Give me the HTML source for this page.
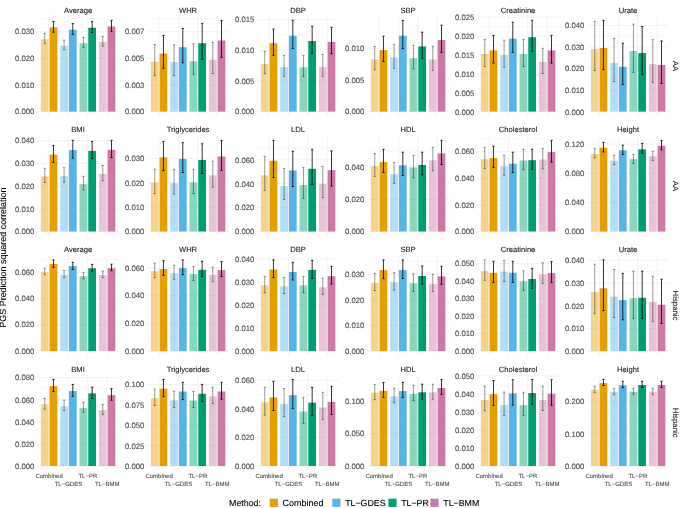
<!DOCTYPE html>
<html lang="en"><head><meta charset="utf-8"><title>PGS Prediction squared correlation</title>
<style>
html,body{margin:0;padding:0;background:#fff;}
body{width:685px;height:508px;overflow:hidden;font-family:"Liberation Sans",Arial,Helvetica,sans-serif;}
svg{display:block;position:absolute;left:0;top:0;will-change:transform;}
svg text{text-rendering:geometricPrecision;}
</style></head><body>
<svg width="685" height="508" viewBox="0 0 685 508" font-family="'Liberation Sans', Arial, Helvetica, sans-serif">
<rect width="685" height="508" fill="#fff"/>
<g>
<path d="M37.4 98.4H118.7M37.4 71.8H118.7M37.4 45.2H118.7M37.4 18.6H118.7" stroke="#EBEBEB" stroke-width="0.36" fill="none"/>
<path d="M37.4 111.7H118.7M37.4 85.1H118.7M37.4 58.4H118.7M37.4 31.7H118.7M49.1 15.7V116.2M68.45 15.7V116.2M87.8 15.7V116.2M107.15 15.7V116.2" stroke="#EBEBEB" stroke-width="0.62" fill="none"/>
<rect x="40.87" y="39.2" width="7.75" height="72.4" fill="#E69F00" fill-opacity="0.45"/>
<rect x="49.58" y="27.3" width="7.75" height="84.3" fill="#E69F00"/>
<rect x="60.22" y="45.8" width="7.75" height="65.8" fill="#56B4E9" fill-opacity="0.45"/>
<rect x="68.93" y="29.7" width="7.75" height="81.9" fill="#56B4E9"/>
<rect x="79.57" y="43.2" width="7.75" height="68.4" fill="#009E73" fill-opacity="0.45"/>
<rect x="88.28" y="27.7" width="7.75" height="83.9" fill="#009E73"/>
<rect x="98.92" y="41.9" width="7.75" height="69.7" fill="#CC79A7" fill-opacity="0.45"/>
<rect x="107.63" y="26.5" width="7.75" height="85.1" fill="#CC79A7"/>
<path d="M43.6 33.3H45.9M44.75 33.3V43.7M43.6 43.7H45.9" stroke="#000" stroke-opacity="0.5" stroke-width="0.8" fill="none"/>
<path d="M52.3 21.4H54.6M53.45 21.4V32.2M52.3 32.2H54.6" stroke="#000" stroke-width="0.8" fill="none"/>
<path d="M62.95 40.2H65.25M64.09 40.2V49.7M62.95 49.7H65.25" stroke="#000" stroke-opacity="0.5" stroke-width="0.8" fill="none"/>
<path d="M71.66 23.6H73.96M72.81 23.6V34.4M71.66 34.4H73.96" stroke="#000" stroke-width="0.8" fill="none"/>
<path d="M82.3 37.5H84.6M83.45 37.5V47.7M82.3 47.7H84.6" stroke="#000" stroke-opacity="0.5" stroke-width="0.8" fill="none"/>
<path d="M91.01 21.7H93.31M92.16 21.7V32.5M91.01 32.5H93.31" stroke="#000" stroke-width="0.8" fill="none"/>
<path d="M101.64 36.2H103.95M102.8 36.2V46.2M101.64 46.2H103.95" stroke="#000" stroke-opacity="0.5" stroke-width="0.8" fill="none"/>
<path d="M110.36 20.3H112.66M111.51 20.3V31.6M110.36 31.6H112.66" stroke="#000" stroke-width="0.8" fill="none"/>
<text x="34.4" y="114.47" font-size="7.75" fill="#4D4D4D" stroke="#4D4D4D" stroke-width="0.1" text-anchor="end">0.000</text>
<text x="34.4" y="87.87" font-size="7.75" fill="#4D4D4D" stroke="#4D4D4D" stroke-width="0.1" text-anchor="end">0.010</text>
<text x="34.4" y="61.17" font-size="7.75" fill="#4D4D4D" stroke="#4D4D4D" stroke-width="0.1" text-anchor="end">0.020</text>
<text x="34.4" y="34.47" font-size="7.75" fill="#4D4D4D" stroke="#4D4D4D" stroke-width="0.1" text-anchor="end">0.030</text>
<text x="78.05" y="12.62" font-size="7.6" fill="#1A1A1A" stroke="#1A1A1A" stroke-width="0.1" text-anchor="middle">Average</text>
</g>
<g>
<path d="M147.4 98.4H228.7M147.4 71.8H228.7M147.4 45.2H228.7M147.4 18.6H228.7" stroke="#EBEBEB" stroke-width="0.36" fill="none"/>
<path d="M147.4 111.7H228.7M147.4 85.1H228.7M147.4 58.4H228.7M147.4 31.7H228.7M159.1 15.7V116.2M178.45 15.7V116.2M197.8 15.7V116.2M217.15 15.7V116.2" stroke="#EBEBEB" stroke-width="0.62" fill="none"/>
<rect x="150.87" y="61.7" width="7.75" height="49.9" fill="#E69F00" fill-opacity="0.45"/>
<rect x="159.58" y="53.6" width="7.75" height="58" fill="#E69F00"/>
<rect x="170.22" y="62" width="7.75" height="49.6" fill="#56B4E9" fill-opacity="0.45"/>
<rect x="178.93" y="47.2" width="7.75" height="64.4" fill="#56B4E9"/>
<rect x="189.57" y="61.2" width="7.75" height="50.4" fill="#009E73" fill-opacity="0.45"/>
<rect x="198.28" y="43.2" width="7.75" height="68.4" fill="#009E73"/>
<rect x="208.92" y="59.8" width="7.75" height="51.8" fill="#CC79A7" fill-opacity="0.45"/>
<rect x="217.63" y="40.5" width="7.75" height="71.1" fill="#CC79A7"/>
<path d="M153.59 44.5H155.9M154.75 44.5V75.6M153.59 75.6H155.9" stroke="#000" stroke-opacity="0.5" stroke-width="0.8" fill="none"/>
<path d="M162.3 35.4H164.6M163.45 35.4V68.4M162.3 68.4H164.6" stroke="#000" stroke-width="0.8" fill="none"/>
<path d="M172.94 44.8H175.25M174.09 44.8V75.6M172.94 75.6H175.25" stroke="#000" stroke-opacity="0.5" stroke-width="0.8" fill="none"/>
<path d="M181.65 28.4H183.95M182.8 28.4V62.8M181.65 62.8H183.95" stroke="#000" stroke-width="0.8" fill="none"/>
<path d="M192.3 43.7H194.6M193.45 43.7V74.4M192.3 74.4H194.6" stroke="#000" stroke-opacity="0.5" stroke-width="0.8" fill="none"/>
<path d="M201 23.4H203.31M202.16 23.4V59.3M201 59.3H203.31" stroke="#000" stroke-width="0.8" fill="none"/>
<path d="M211.65 42.4H213.95M212.8 42.4V73.5M211.65 73.5H213.95" stroke="#000" stroke-opacity="0.5" stroke-width="0.8" fill="none"/>
<path d="M220.35 20.3H222.66M221.5 20.3V57.4M220.35 57.4H222.66" stroke="#000" stroke-width="0.8" fill="none"/>
<text x="144.4" y="114.47" font-size="7.75" fill="#4D4D4D" stroke="#4D4D4D" stroke-width="0.1" text-anchor="end">0.000</text>
<text x="144.4" y="87.87" font-size="7.75" fill="#4D4D4D" stroke="#4D4D4D" stroke-width="0.1" text-anchor="end">0.003</text>
<text x="144.4" y="61.17" font-size="7.75" fill="#4D4D4D" stroke="#4D4D4D" stroke-width="0.1" text-anchor="end">0.005</text>
<text x="144.4" y="34.47" font-size="7.75" fill="#4D4D4D" stroke="#4D4D4D" stroke-width="0.1" text-anchor="end">0.007</text>
<text x="188.05" y="12.62" font-size="7.6" fill="#1A1A1A" stroke="#1A1A1A" stroke-width="0.1" text-anchor="middle">WHR</text>
</g>
<g>
<path d="M257.4 96.25H338.7M257.4 65.55H338.7M257.4 34.85H338.7" stroke="#EBEBEB" stroke-width="0.36" fill="none"/>
<path d="M257.4 111.6H338.7M257.4 80.9H338.7M257.4 50.3H338.7M257.4 19.6H338.7M269.1 15.7V116.2M288.45 15.7V116.2M307.8 15.7V116.2M327.15 15.7V116.2" stroke="#EBEBEB" stroke-width="0.62" fill="none"/>
<rect x="260.87" y="64.1" width="7.75" height="47.5" fill="#E69F00" fill-opacity="0.45"/>
<rect x="269.58" y="43.2" width="7.75" height="68.4" fill="#E69F00"/>
<rect x="280.22" y="67.1" width="7.75" height="44.5" fill="#56B4E9" fill-opacity="0.45"/>
<rect x="288.93" y="35.7" width="7.75" height="75.9" fill="#56B4E9"/>
<rect x="299.57" y="67.3" width="7.75" height="44.3" fill="#009E73" fill-opacity="0.45"/>
<rect x="308.28" y="41" width="7.75" height="70.6" fill="#009E73"/>
<rect x="318.92" y="67.1" width="7.75" height="44.5" fill="#CC79A7" fill-opacity="0.45"/>
<rect x="327.63" y="41.9" width="7.75" height="69.7" fill="#CC79A7"/>
<path d="M263.6 51.3H265.89M264.75 51.3V73.6M263.6 73.6H265.89" stroke="#000" stroke-opacity="0.5" stroke-width="0.8" fill="none"/>
<path d="M272.31 29H274.61M273.46 29V55.3M272.31 55.3H274.61" stroke="#000" stroke-width="0.8" fill="none"/>
<path d="M282.95 55.3H285.25M284.1 55.3V76.4M282.95 76.4H285.25" stroke="#000" stroke-opacity="0.5" stroke-width="0.8" fill="none"/>
<path d="M291.66 20.3H293.96M292.81 20.3V48.5M291.66 48.5H293.96" stroke="#000" stroke-width="0.8" fill="none"/>
<path d="M302.3 55.3H304.59M303.44 55.3V76.7M302.3 76.7H304.59" stroke="#000" stroke-opacity="0.5" stroke-width="0.8" fill="none"/>
<path d="M311.01 26.3H313.31M312.16 26.3V53.2M311.01 53.2H313.31" stroke="#000" stroke-width="0.8" fill="none"/>
<path d="M321.65 54.5H323.94M322.8 54.5V76.4M321.65 76.4H323.94" stroke="#000" stroke-opacity="0.5" stroke-width="0.8" fill="none"/>
<path d="M330.36 27.3H332.66M331.51 27.3V53.7M330.36 53.7H332.66" stroke="#000" stroke-width="0.8" fill="none"/>
<text x="254.4" y="114.37" font-size="7.75" fill="#4D4D4D" stroke="#4D4D4D" stroke-width="0.1" text-anchor="end">0.000</text>
<text x="254.4" y="83.67" font-size="7.75" fill="#4D4D4D" stroke="#4D4D4D" stroke-width="0.1" text-anchor="end">0.005</text>
<text x="254.4" y="53.07" font-size="7.75" fill="#4D4D4D" stroke="#4D4D4D" stroke-width="0.1" text-anchor="end">0.010</text>
<text x="254.4" y="22.37" font-size="7.75" fill="#4D4D4D" stroke="#4D4D4D" stroke-width="0.1" text-anchor="end">0.015</text>
<text x="298.05" y="12.62" font-size="7.6" fill="#1A1A1A" stroke="#1A1A1A" stroke-width="0.1" text-anchor="middle">DBP</text>
</g>
<g>
<path d="M367.4 95.8H448.7M367.4 64H448.7M367.4 32.2H448.7" stroke="#EBEBEB" stroke-width="0.36" fill="none"/>
<path d="M367.4 111.7H448.7M367.4 79.9H448.7M367.4 48.1H448.7M379.1 15.7V116.2M398.45 15.7V116.2M417.8 15.7V116.2M437.15 15.7V116.2" stroke="#EBEBEB" stroke-width="0.62" fill="none"/>
<rect x="370.87" y="59.3" width="7.75" height="52.3" fill="#E69F00" fill-opacity="0.45"/>
<rect x="379.58" y="50.1" width="7.75" height="61.5" fill="#E69F00"/>
<rect x="390.22" y="57.4" width="7.75" height="54.2" fill="#56B4E9" fill-opacity="0.45"/>
<rect x="398.93" y="35.7" width="7.75" height="75.9" fill="#56B4E9"/>
<rect x="409.57" y="58.2" width="7.75" height="53.4" fill="#009E73" fill-opacity="0.45"/>
<rect x="418.28" y="46.4" width="7.75" height="65.2" fill="#009E73"/>
<rect x="428.92" y="59.6" width="7.75" height="52" fill="#CC79A7" fill-opacity="0.45"/>
<rect x="437.63" y="40" width="7.75" height="71.6" fill="#CC79A7"/>
<path d="M373.6 46.4H375.89M374.75 46.4V69.7M373.6 69.7H375.89" stroke="#000" stroke-opacity="0.5" stroke-width="0.8" fill="none"/>
<path d="M382.31 36.2H384.61M383.46 36.2V61.5M382.31 61.5H384.61" stroke="#000" stroke-width="0.8" fill="none"/>
<path d="M392.95 44.3H395.25M394.1 44.3V68.4M392.95 68.4H395.25" stroke="#000" stroke-opacity="0.5" stroke-width="0.8" fill="none"/>
<path d="M401.66 20.3H403.96M402.81 20.3V48.5M401.66 48.5H403.96" stroke="#000" stroke-width="0.8" fill="none"/>
<path d="M412.3 45.3H414.59M413.44 45.3V68.9M412.3 68.9H414.59" stroke="#000" stroke-opacity="0.5" stroke-width="0.8" fill="none"/>
<path d="M421.01 32.2H423.31M422.16 32.2V58.3M421.01 58.3H423.31" stroke="#000" stroke-width="0.8" fill="none"/>
<path d="M431.65 46.4H433.94M432.8 46.4V70.3M431.65 70.3H433.94" stroke="#000" stroke-opacity="0.5" stroke-width="0.8" fill="none"/>
<path d="M440.36 25.2H442.66M441.51 25.2V52.4M440.36 52.4H442.66" stroke="#000" stroke-width="0.8" fill="none"/>
<text x="364.4" y="114.47" font-size="7.75" fill="#4D4D4D" stroke="#4D4D4D" stroke-width="0.1" text-anchor="end">0.000</text>
<text x="364.4" y="82.67" font-size="7.75" fill="#4D4D4D" stroke="#4D4D4D" stroke-width="0.1" text-anchor="end">0.005</text>
<text x="364.4" y="50.87" font-size="7.75" fill="#4D4D4D" stroke="#4D4D4D" stroke-width="0.1" text-anchor="end">0.010</text>
<text x="408.05" y="12.62" font-size="7.6" fill="#1A1A1A" stroke="#1A1A1A" stroke-width="0.1" text-anchor="middle">SBP</text>
</g>
<g>
<path d="M477.4 102.35H558.7M477.4 83.45H558.7M477.4 64.55H558.7M477.4 45.65H558.7M477.4 26.75H558.7" stroke="#EBEBEB" stroke-width="0.36" fill="none"/>
<path d="M477.4 111.8H558.7M477.4 92.9H558.7M477.4 74H558.7M477.4 55.1H558.7M477.4 36.1H558.7M477.4 17.2H558.7M489.1 15.7V116.2M508.45 15.7V116.2M527.8 15.7V116.2M547.15 15.7V116.2" stroke="#EBEBEB" stroke-width="0.62" fill="none"/>
<rect x="480.87" y="54" width="7.75" height="57.6" fill="#E69F00" fill-opacity="0.45"/>
<rect x="489.58" y="50.4" width="7.75" height="61.2" fill="#E69F00"/>
<rect x="500.22" y="55" width="7.75" height="56.6" fill="#56B4E9" fill-opacity="0.45"/>
<rect x="508.93" y="38.6" width="7.75" height="73" fill="#56B4E9"/>
<rect x="519.57" y="54" width="7.75" height="57.6" fill="#009E73" fill-opacity="0.45"/>
<rect x="528.28" y="37.2" width="7.75" height="74.4" fill="#009E73"/>
<rect x="538.92" y="62" width="7.75" height="49.6" fill="#CC79A7" fill-opacity="0.45"/>
<rect x="547.63" y="50.4" width="7.75" height="61.2" fill="#CC79A7"/>
<path d="M483.6 39.4H485.89M484.75 39.4V66.5M483.6 66.5H485.89" stroke="#000" stroke-opacity="0.5" stroke-width="0.8" fill="none"/>
<path d="M492.31 35.4H494.61M493.46 35.4V63.1M492.31 63.1H494.61" stroke="#000" stroke-width="0.8" fill="none"/>
<path d="M502.95 40.2H505.25M504.1 40.2V67.3M502.95 67.3H505.25" stroke="#000" stroke-opacity="0.5" stroke-width="0.8" fill="none"/>
<path d="M511.66 22.3H513.96M512.81 22.3V52.4M511.66 52.4H513.96" stroke="#000" stroke-width="0.8" fill="none"/>
<path d="M522.3 39.4H524.6M523.45 39.4V66.5M522.3 66.5H524.6" stroke="#000" stroke-opacity="0.5" stroke-width="0.8" fill="none"/>
<path d="M531.01 20.3H533.31M532.16 20.3V51.3M531.01 51.3H533.31" stroke="#000" stroke-width="0.8" fill="none"/>
<path d="M541.64 48.3H543.94M542.79 48.3V73.5M541.64 73.5H543.94" stroke="#000" stroke-opacity="0.5" stroke-width="0.8" fill="none"/>
<path d="M550.36 35.4H552.65M551.5 35.4V63.1M550.36 63.1H552.65" stroke="#000" stroke-width="0.8" fill="none"/>
<text x="474.4" y="114.57" font-size="7.75" fill="#4D4D4D" stroke="#4D4D4D" stroke-width="0.1" text-anchor="end">0.000</text>
<text x="474.4" y="95.67" font-size="7.75" fill="#4D4D4D" stroke="#4D4D4D" stroke-width="0.1" text-anchor="end">0.005</text>
<text x="474.4" y="76.77" font-size="7.75" fill="#4D4D4D" stroke="#4D4D4D" stroke-width="0.1" text-anchor="end">0.010</text>
<text x="474.4" y="57.87" font-size="7.75" fill="#4D4D4D" stroke="#4D4D4D" stroke-width="0.1" text-anchor="end">0.015</text>
<text x="474.4" y="38.87" font-size="7.75" fill="#4D4D4D" stroke="#4D4D4D" stroke-width="0.1" text-anchor="end">0.020</text>
<text x="474.4" y="19.97" font-size="7.75" fill="#4D4D4D" stroke="#4D4D4D" stroke-width="0.1" text-anchor="end">0.025</text>
<text x="518.05" y="12.62" font-size="7.6" fill="#1A1A1A" stroke="#1A1A1A" stroke-width="0.1" text-anchor="middle">Creatinine</text>
</g>
<g>
<path d="M587.4 101.05H668.7M587.4 79.35H668.7M587.4 57.65H668.7M587.4 35.95H668.7" stroke="#EBEBEB" stroke-width="0.36" fill="none"/>
<path d="M587.4 111.9H668.7M587.4 90.2H668.7M587.4 68.6H668.7M587.4 47H668.7M587.4 25.4H668.7M599.1 15.7V116.2M618.45 15.7V116.2M637.8 15.7V116.2M657.15 15.7V116.2" stroke="#EBEBEB" stroke-width="0.62" fill="none"/>
<rect x="590.87" y="48.9" width="7.75" height="62.7" fill="#E69F00" fill-opacity="0.45"/>
<rect x="599.58" y="48" width="7.75" height="63.6" fill="#E69F00"/>
<rect x="610.22" y="62.8" width="7.75" height="48.8" fill="#56B4E9" fill-opacity="0.45"/>
<rect x="618.93" y="66.8" width="7.75" height="44.8" fill="#56B4E9"/>
<rect x="629.57" y="51" width="7.75" height="60.6" fill="#009E73" fill-opacity="0.45"/>
<rect x="638.28" y="53.1" width="7.75" height="58.5" fill="#009E73"/>
<rect x="648.92" y="64.1" width="7.75" height="47.5" fill="#CC79A7" fill-opacity="0.45"/>
<rect x="657.63" y="65" width="7.75" height="46.6" fill="#CC79A7"/>
<path d="M593.6 21.4H595.89M594.75 21.4V70.5M593.6 70.5H595.89" stroke="#000" stroke-opacity="0.5" stroke-width="0.8" fill="none"/>
<path d="M602.31 20.3H604.61M603.46 20.3V69.7M602.31 69.7H604.61" stroke="#000" stroke-width="0.8" fill="none"/>
<path d="M612.95 38.3H615.25M614.1 38.3V81.5M612.95 81.5H615.25" stroke="#000" stroke-opacity="0.5" stroke-width="0.8" fill="none"/>
<path d="M621.66 43.2H623.96M622.81 43.2V84.6M621.66 84.6H623.96" stroke="#000" stroke-width="0.8" fill="none"/>
<path d="M632.3 24.1H634.6M633.45 24.1V72.4M632.3 72.4H634.6" stroke="#000" stroke-opacity="0.5" stroke-width="0.8" fill="none"/>
<path d="M641.01 26.5H643.31M642.16 26.5V74.4M641.01 74.4H643.31" stroke="#000" stroke-width="0.8" fill="none"/>
<path d="M651.64 39.7H653.94M652.79 39.7V82.4M651.64 82.4H653.94" stroke="#000" stroke-opacity="0.5" stroke-width="0.8" fill="none"/>
<path d="M660.36 41H662.65M661.5 41V83.5M660.36 83.5H662.65" stroke="#000" stroke-width="0.8" fill="none"/>
<text x="584.4" y="114.67" font-size="7.75" fill="#4D4D4D" stroke="#4D4D4D" stroke-width="0.1" text-anchor="end">0.000</text>
<text x="584.4" y="92.97" font-size="7.75" fill="#4D4D4D" stroke="#4D4D4D" stroke-width="0.1" text-anchor="end">0.010</text>
<text x="584.4" y="71.37" font-size="7.75" fill="#4D4D4D" stroke="#4D4D4D" stroke-width="0.1" text-anchor="end">0.020</text>
<text x="584.4" y="49.77" font-size="7.75" fill="#4D4D4D" stroke="#4D4D4D" stroke-width="0.1" text-anchor="end">0.030</text>
<text x="584.4" y="28.17" font-size="7.75" fill="#4D4D4D" stroke="#4D4D4D" stroke-width="0.1" text-anchor="end">0.040</text>
<text x="628.05" y="12.62" font-size="7.6" fill="#1A1A1A" stroke="#1A1A1A" stroke-width="0.1" text-anchor="middle">Urate</text>
</g>
<g>
<path d="M37.4 220.25H118.7M37.4 197.55H118.7M37.4 174.85H118.7M37.4 152.15H118.7" stroke="#EBEBEB" stroke-width="0.36" fill="none"/>
<path d="M37.4 231.6H118.7M37.4 208.9H118.7M37.4 186.2H118.7M37.4 163.5H118.7M37.4 140.7H118.7M49.1 135.7V236.1M68.45 135.7V236.1M87.8 135.7V236.1M107.15 135.7V236.1" stroke="#EBEBEB" stroke-width="0.62" fill="none"/>
<rect x="40.87" y="176.4" width="7.75" height="55.1" fill="#E69F00" fill-opacity="0.45"/>
<rect x="49.58" y="154.6" width="7.75" height="76.9" fill="#E69F00"/>
<rect x="60.22" y="176.1" width="7.75" height="55.4" fill="#56B4E9" fill-opacity="0.45"/>
<rect x="68.93" y="150.1" width="7.75" height="81.4" fill="#56B4E9"/>
<rect x="79.57" y="184.1" width="7.75" height="47.4" fill="#009E73" fill-opacity="0.45"/>
<rect x="88.28" y="150.9" width="7.75" height="80.6" fill="#009E73"/>
<rect x="98.92" y="174" width="7.75" height="57.5" fill="#CC79A7" fill-opacity="0.45"/>
<rect x="107.63" y="149.8" width="7.75" height="81.7" fill="#CC79A7"/>
<path d="M43.6 168.3H45.9M44.75 168.3V182.5M43.6 182.5H45.9" stroke="#000" stroke-opacity="0.5" stroke-width="0.8" fill="none"/>
<path d="M52.3 145.4H54.6M53.45 145.4V162.4M52.3 162.4H54.6" stroke="#000" stroke-width="0.8" fill="none"/>
<path d="M62.95 167.7H65.25M64.09 167.7V182.3M62.95 182.3H65.25" stroke="#000" stroke-opacity="0.5" stroke-width="0.8" fill="none"/>
<path d="M71.66 140.3H73.96M72.81 140.3V158.1M71.66 158.1H73.96" stroke="#000" stroke-width="0.8" fill="none"/>
<path d="M82.3 176.4H84.6M83.45 176.4V190M82.3 190H84.6" stroke="#000" stroke-opacity="0.5" stroke-width="0.8" fill="none"/>
<path d="M91.01 141.4H93.31M92.16 141.4V158.6M91.01 158.6H93.31" stroke="#000" stroke-width="0.8" fill="none"/>
<path d="M101.64 165.4H103.95M102.8 165.4V180.6M101.64 180.6H103.95" stroke="#000" stroke-opacity="0.5" stroke-width="0.8" fill="none"/>
<path d="M110.36 140.3H112.66M111.51 140.3V157.5M110.36 157.5H112.66" stroke="#000" stroke-width="0.8" fill="none"/>
<text x="34.4" y="234.37" font-size="7.75" fill="#4D4D4D" stroke="#4D4D4D" stroke-width="0.1" text-anchor="end">0.000</text>
<text x="34.4" y="211.67" font-size="7.75" fill="#4D4D4D" stroke="#4D4D4D" stroke-width="0.1" text-anchor="end">0.010</text>
<text x="34.4" y="188.97" font-size="7.75" fill="#4D4D4D" stroke="#4D4D4D" stroke-width="0.1" text-anchor="end">0.020</text>
<text x="34.4" y="166.27" font-size="7.75" fill="#4D4D4D" stroke="#4D4D4D" stroke-width="0.1" text-anchor="end">0.030</text>
<text x="34.4" y="143.47" font-size="7.75" fill="#4D4D4D" stroke="#4D4D4D" stroke-width="0.1" text-anchor="end">0.040</text>
<text x="78.05" y="132.22" font-size="7.6" fill="#1A1A1A" stroke="#1A1A1A" stroke-width="0.1" text-anchor="middle">BMI</text>
</g>
<g>
<path d="M147.4 219.4H228.7M147.4 195H228.7M147.4 170.6H228.7M147.4 146.2H228.7" stroke="#EBEBEB" stroke-width="0.36" fill="none"/>
<path d="M147.4 231.6H228.7M147.4 207.2H228.7M147.4 182.8H228.7M147.4 158.3H228.7M159.1 135.7V236.1M178.45 135.7V236.1M197.8 135.7V236.1M217.15 135.7V236.1" stroke="#EBEBEB" stroke-width="0.62" fill="none"/>
<rect x="150.87" y="182.5" width="7.75" height="49" fill="#E69F00" fill-opacity="0.45"/>
<rect x="159.58" y="157.3" width="7.75" height="74.2" fill="#E69F00"/>
<rect x="170.22" y="183.1" width="7.75" height="48.4" fill="#56B4E9" fill-opacity="0.45"/>
<rect x="178.93" y="158.9" width="7.75" height="72.6" fill="#56B4E9"/>
<rect x="189.57" y="182.5" width="7.75" height="49" fill="#009E73" fill-opacity="0.45"/>
<rect x="198.28" y="159.9" width="7.75" height="71.6" fill="#009E73"/>
<rect x="208.92" y="175.3" width="7.75" height="56.2" fill="#CC79A7" fill-opacity="0.45"/>
<rect x="217.63" y="156.5" width="7.75" height="75" fill="#CC79A7"/>
<path d="M153.59 169.1H155.9M154.75 169.1V193.5M153.59 193.5H155.9" stroke="#000" stroke-opacity="0.5" stroke-width="0.8" fill="none"/>
<path d="M162.3 141.4H164.6M163.45 141.4V170.7M162.3 170.7H164.6" stroke="#000" stroke-width="0.8" fill="none"/>
<path d="M172.94 169.4H175.25M174.09 169.4V194M172.94 194H175.25" stroke="#000" stroke-opacity="0.5" stroke-width="0.8" fill="none"/>
<path d="M181.65 142.6H183.95M182.8 142.6V172.5M181.65 172.5H183.95" stroke="#000" stroke-width="0.8" fill="none"/>
<path d="M192.3 169.1H194.6M193.45 169.1V193.5M192.3 193.5H194.6" stroke="#000" stroke-opacity="0.5" stroke-width="0.8" fill="none"/>
<path d="M201 143.8H203.31M202.16 143.8V173.4M201 173.4H203.31" stroke="#000" stroke-width="0.8" fill="none"/>
<path d="M211.65 161.1H213.95M212.8 161.1V187.3M211.65 187.3H213.95" stroke="#000" stroke-opacity="0.5" stroke-width="0.8" fill="none"/>
<path d="M220.35 140.3H222.66M221.5 140.3V170.4M220.35 170.4H222.66" stroke="#000" stroke-width="0.8" fill="none"/>
<text x="144.4" y="234.37" font-size="7.75" fill="#4D4D4D" stroke="#4D4D4D" stroke-width="0.1" text-anchor="end">0.000</text>
<text x="144.4" y="209.97" font-size="7.75" fill="#4D4D4D" stroke="#4D4D4D" stroke-width="0.1" text-anchor="end">0.010</text>
<text x="144.4" y="185.57" font-size="7.75" fill="#4D4D4D" stroke="#4D4D4D" stroke-width="0.1" text-anchor="end">0.020</text>
<text x="144.4" y="161.07" font-size="7.75" fill="#4D4D4D" stroke="#4D4D4D" stroke-width="0.1" text-anchor="end">0.030</text>
<text x="188.05" y="132.22" font-size="7.6" fill="#1A1A1A" stroke="#1A1A1A" stroke-width="0.1" text-anchor="middle">Triglycerides</text>
</g>
<g>
<path d="M257.4 219.65H338.7M257.4 195.75H338.7M257.4 171.85H338.7M257.4 147.95H338.7" stroke="#EBEBEB" stroke-width="0.36" fill="none"/>
<path d="M257.4 231.6H338.7M257.4 207.7H338.7M257.4 183.8H338.7M257.4 159.9H338.7M269.1 135.7V236.1M288.45 135.7V236.1M307.8 135.7V236.1M327.15 135.7V236.1" stroke="#EBEBEB" stroke-width="0.62" fill="none"/>
<rect x="260.87" y="175.3" width="7.75" height="56.2" fill="#E69F00" fill-opacity="0.45"/>
<rect x="269.58" y="160.8" width="7.75" height="70.7" fill="#E69F00"/>
<rect x="280.22" y="186" width="7.75" height="45.5" fill="#56B4E9" fill-opacity="0.45"/>
<rect x="288.93" y="170.4" width="7.75" height="61.1" fill="#56B4E9"/>
<rect x="299.57" y="185" width="7.75" height="46.5" fill="#009E73" fill-opacity="0.45"/>
<rect x="308.28" y="168.8" width="7.75" height="62.7" fill="#009E73"/>
<rect x="318.92" y="183.9" width="7.75" height="47.6" fill="#CC79A7" fill-opacity="0.45"/>
<rect x="327.63" y="170.1" width="7.75" height="61.4" fill="#CC79A7"/>
<path d="M263.6 156.2H265.89M264.75 156.2V190.3M263.6 190.3H265.89" stroke="#000" stroke-opacity="0.5" stroke-width="0.8" fill="none"/>
<path d="M272.31 140.3H274.61M273.46 140.3V177.5M272.31 177.5H274.61" stroke="#000" stroke-width="0.8" fill="none"/>
<path d="M282.95 168.5H285.25M284.1 168.5V199.5M282.95 199.5H285.25" stroke="#000" stroke-opacity="0.5" stroke-width="0.8" fill="none"/>
<path d="M291.66 151.3H293.96M292.81 151.3V186.5M291.66 186.5H293.96" stroke="#000" stroke-width="0.8" fill="none"/>
<path d="M302.3 167.4H304.59M303.44 167.4V198.4M302.3 198.4H304.59" stroke="#000" stroke-opacity="0.5" stroke-width="0.8" fill="none"/>
<path d="M311.01 149.3H313.31M312.16 149.3V184.4M311.01 184.4H313.31" stroke="#000" stroke-width="0.8" fill="none"/>
<path d="M321.65 166.4H323.94M322.8 166.4V197.5M321.65 197.5H323.94" stroke="#000" stroke-opacity="0.5" stroke-width="0.8" fill="none"/>
<path d="M330.36 150.9H332.66M331.51 150.9V186M330.36 186H332.66" stroke="#000" stroke-width="0.8" fill="none"/>
<text x="254.4" y="234.37" font-size="7.75" fill="#4D4D4D" stroke="#4D4D4D" stroke-width="0.1" text-anchor="end">0.000</text>
<text x="254.4" y="210.47" font-size="7.75" fill="#4D4D4D" stroke="#4D4D4D" stroke-width="0.1" text-anchor="end">0.020</text>
<text x="254.4" y="186.57" font-size="7.75" fill="#4D4D4D" stroke="#4D4D4D" stroke-width="0.1" text-anchor="end">0.040</text>
<text x="254.4" y="162.67" font-size="7.75" fill="#4D4D4D" stroke="#4D4D4D" stroke-width="0.1" text-anchor="end">0.060</text>
<text x="298.05" y="132.22" font-size="7.6" fill="#1A1A1A" stroke="#1A1A1A" stroke-width="0.1" text-anchor="middle">LDL</text>
</g>
<g>
<path d="M367.4 215.55H448.7M367.4 183.25H448.7M367.4 150.95H448.7" stroke="#EBEBEB" stroke-width="0.36" fill="none"/>
<path d="M367.4 231.7H448.7M367.4 199.4H448.7M367.4 167H448.7M379.1 135.7V236.1M398.45 135.7V236.1M417.8 135.7V236.1M437.15 135.7V236.1" stroke="#EBEBEB" stroke-width="0.62" fill="none"/>
<rect x="370.87" y="166.2" width="7.75" height="65.3" fill="#E69F00" fill-opacity="0.45"/>
<rect x="379.58" y="162.1" width="7.75" height="69.4" fill="#E69F00"/>
<rect x="390.22" y="174.2" width="7.75" height="57.3" fill="#56B4E9" fill-opacity="0.45"/>
<rect x="398.93" y="165.3" width="7.75" height="66.2" fill="#56B4E9"/>
<rect x="409.57" y="167.5" width="7.75" height="64" fill="#009E73" fill-opacity="0.45"/>
<rect x="418.28" y="165" width="7.75" height="66.5" fill="#009E73"/>
<rect x="428.92" y="160.2" width="7.75" height="71.3" fill="#CC79A7" fill-opacity="0.45"/>
<rect x="437.63" y="153.3" width="7.75" height="78.2" fill="#CC79A7"/>
<path d="M373.6 153.6H375.89M374.75 153.6V176.4M373.6 176.4H375.89" stroke="#000" stroke-opacity="0.5" stroke-width="0.8" fill="none"/>
<path d="M382.31 149.3H384.61M383.46 149.3V172.5M382.31 172.5H384.61" stroke="#000" stroke-width="0.8" fill="none"/>
<path d="M392.95 162.4H395.25M394.1 162.4V183.4M392.95 183.4H395.25" stroke="#000" stroke-opacity="0.5" stroke-width="0.8" fill="none"/>
<path d="M401.66 152.2H403.96M402.81 152.2V175.5M401.66 175.5H403.96" stroke="#000" stroke-width="0.8" fill="none"/>
<path d="M412.3 155.4H414.59M413.44 155.4V177.6M412.3 177.6H414.59" stroke="#000" stroke-opacity="0.5" stroke-width="0.8" fill="none"/>
<path d="M421.01 152.2H423.31M422.16 152.2V174.8M421.01 174.8H423.31" stroke="#000" stroke-width="0.8" fill="none"/>
<path d="M431.65 147.3H433.94M432.8 147.3V170.9M431.65 170.9H433.94" stroke="#000" stroke-opacity="0.5" stroke-width="0.8" fill="none"/>
<path d="M440.36 140.3H442.66M441.51 140.3V164.5M440.36 164.5H442.66" stroke="#000" stroke-width="0.8" fill="none"/>
<text x="364.4" y="234.47" font-size="7.75" fill="#4D4D4D" stroke="#4D4D4D" stroke-width="0.1" text-anchor="end">0.000</text>
<text x="364.4" y="202.17" font-size="7.75" fill="#4D4D4D" stroke="#4D4D4D" stroke-width="0.1" text-anchor="end">0.020</text>
<text x="364.4" y="169.77" font-size="7.75" fill="#4D4D4D" stroke="#4D4D4D" stroke-width="0.1" text-anchor="end">0.040</text>
<text x="408.05" y="132.22" font-size="7.6" fill="#1A1A1A" stroke="#1A1A1A" stroke-width="0.1" text-anchor="middle">HDL</text>
</g>
<g>
<path d="M477.4 218.35H558.7M477.4 191.65H558.7M477.4 164.95H558.7M477.4 138.25H558.7" stroke="#EBEBEB" stroke-width="0.36" fill="none"/>
<path d="M477.4 231.7H558.7M477.4 205H558.7M477.4 178.4H558.7M477.4 151.7H558.7M489.1 135.7V236.1M508.45 135.7V236.1M527.8 135.7V236.1M547.15 135.7V236.1" stroke="#EBEBEB" stroke-width="0.62" fill="none"/>
<rect x="480.87" y="159.2" width="7.75" height="72.3" fill="#E69F00" fill-opacity="0.45"/>
<rect x="489.58" y="158.1" width="7.75" height="73.4" fill="#E69F00"/>
<rect x="500.22" y="166.2" width="7.75" height="65.3" fill="#56B4E9" fill-opacity="0.45"/>
<rect x="508.93" y="163.7" width="7.75" height="67.8" fill="#56B4E9"/>
<rect x="519.57" y="160.5" width="7.75" height="71" fill="#009E73" fill-opacity="0.45"/>
<rect x="528.28" y="160.2" width="7.75" height="71.3" fill="#009E73"/>
<rect x="538.92" y="159.5" width="7.75" height="72" fill="#CC79A7" fill-opacity="0.45"/>
<rect x="547.63" y="152.1" width="7.75" height="79.4" fill="#CC79A7"/>
<path d="M483.6 147.3H485.89M484.75 147.3V168.5M483.6 168.5H485.89" stroke="#000" stroke-opacity="0.5" stroke-width="0.8" fill="none"/>
<path d="M492.31 146.3H494.61M493.46 146.3V167.4M492.31 167.4H494.61" stroke="#000" stroke-width="0.8" fill="none"/>
<path d="M502.95 155.2H505.25M504.1 155.2V175.3M502.95 175.3H505.25" stroke="#000" stroke-opacity="0.5" stroke-width="0.8" fill="none"/>
<path d="M511.66 152.2H513.96M512.81 152.2V172.6M511.66 172.6H513.96" stroke="#000" stroke-width="0.8" fill="none"/>
<path d="M522.3 149.3H524.6M523.45 149.3V169.7M522.3 169.7H524.6" stroke="#000" stroke-opacity="0.5" stroke-width="0.8" fill="none"/>
<path d="M531.01 149.2H533.31M532.16 149.2V169.4M531.01 169.4H533.31" stroke="#000" stroke-width="0.8" fill="none"/>
<path d="M541.64 148.2H543.94M542.79 148.2V168.8M541.64 168.8H543.94" stroke="#000" stroke-opacity="0.5" stroke-width="0.8" fill="none"/>
<path d="M550.36 140.3H552.65M551.5 140.3V162.1M550.36 162.1H552.65" stroke="#000" stroke-width="0.8" fill="none"/>
<text x="474.4" y="234.47" font-size="7.75" fill="#4D4D4D" stroke="#4D4D4D" stroke-width="0.1" text-anchor="end">0.000</text>
<text x="474.4" y="207.77" font-size="7.75" fill="#4D4D4D" stroke="#4D4D4D" stroke-width="0.1" text-anchor="end">0.020</text>
<text x="474.4" y="181.17" font-size="7.75" fill="#4D4D4D" stroke="#4D4D4D" stroke-width="0.1" text-anchor="end">0.040</text>
<text x="474.4" y="154.47" font-size="7.75" fill="#4D4D4D" stroke="#4D4D4D" stroke-width="0.1" text-anchor="end">0.060</text>
<text x="518.05" y="132.22" font-size="7.6" fill="#1A1A1A" stroke="#1A1A1A" stroke-width="0.1" text-anchor="middle">Cholesterol</text>
</g>
<g>
<path d="M587.4 217.1H668.7M587.4 187.9H668.7M587.4 158.7H668.7" stroke="#EBEBEB" stroke-width="0.36" fill="none"/>
<path d="M587.4 231.7H668.7M587.4 202.5H668.7M587.4 173.3H668.7M587.4 144.1H668.7M599.1 135.7V236.1M618.45 135.7V236.1M637.8 135.7V236.1M657.15 135.7V236.1" stroke="#EBEBEB" stroke-width="0.62" fill="none"/>
<rect x="590.87" y="154" width="7.75" height="77.5" fill="#E69F00" fill-opacity="0.45"/>
<rect x="599.58" y="147.7" width="7.75" height="83.8" fill="#E69F00"/>
<rect x="610.22" y="160.8" width="7.75" height="70.7" fill="#56B4E9" fill-opacity="0.45"/>
<rect x="618.93" y="150.3" width="7.75" height="81.2" fill="#56B4E9"/>
<rect x="629.57" y="159.2" width="7.75" height="72.3" fill="#009E73" fill-opacity="0.45"/>
<rect x="638.28" y="149.3" width="7.75" height="82.2" fill="#009E73"/>
<rect x="648.92" y="156.2" width="7.75" height="75.3" fill="#CC79A7" fill-opacity="0.45"/>
<rect x="657.63" y="145.8" width="7.75" height="85.7" fill="#CC79A7"/>
<path d="M593.6 148.4H595.89M594.75 148.4V157.8M593.6 157.8H595.89" stroke="#000" stroke-opacity="0.5" stroke-width="0.8" fill="none"/>
<path d="M602.31 142.3H604.61M603.46 142.3V151.9M602.31 151.9H604.61" stroke="#000" stroke-width="0.8" fill="none"/>
<path d="M612.95 155.4H615.25M614.1 155.4V164.6M612.95 164.6H615.25" stroke="#000" stroke-opacity="0.5" stroke-width="0.8" fill="none"/>
<path d="M621.66 145.2H623.96M622.81 145.2V154.4M621.66 154.4H623.96" stroke="#000" stroke-width="0.8" fill="none"/>
<path d="M632.3 154.3H634.6M633.45 154.3V163.5M632.3 163.5H634.6" stroke="#000" stroke-opacity="0.5" stroke-width="0.8" fill="none"/>
<path d="M641.01 143.4H643.31M642.16 143.4V153.3M641.01 153.3H643.31" stroke="#000" stroke-width="0.8" fill="none"/>
<path d="M651.64 151.3H653.94M652.79 151.3V160.5M651.64 160.5H653.94" stroke="#000" stroke-opacity="0.5" stroke-width="0.8" fill="none"/>
<path d="M660.36 140.3H662.65M661.5 140.3V149.8M660.36 149.8H662.65" stroke="#000" stroke-width="0.8" fill="none"/>
<text x="584.4" y="234.47" font-size="7.75" fill="#4D4D4D" stroke="#4D4D4D" stroke-width="0.1" text-anchor="end">0.000</text>
<text x="584.4" y="205.27" font-size="7.75" fill="#4D4D4D" stroke="#4D4D4D" stroke-width="0.1" text-anchor="end">0.040</text>
<text x="584.4" y="176.07" font-size="7.75" fill="#4D4D4D" stroke="#4D4D4D" stroke-width="0.1" text-anchor="end">0.080</text>
<text x="584.4" y="146.87" font-size="7.75" fill="#4D4D4D" stroke="#4D4D4D" stroke-width="0.1" text-anchor="end">0.120</text>
<text x="628.05" y="132.22" font-size="7.6" fill="#1A1A1A" stroke="#1A1A1A" stroke-width="0.1" text-anchor="middle">Height</text>
</g>
<g>
<path d="M37.4 337.75H118.7M37.4 311.65H118.7M37.4 285.55H118.7M37.4 259.45H118.7" stroke="#EBEBEB" stroke-width="0.36" fill="none"/>
<path d="M37.4 350.8H118.7M37.4 324.7H118.7M37.4 298.6H118.7M37.4 272.5H118.7M49.1 255.3V355.7M68.45 255.3V355.7M87.8 255.3V355.7M107.15 255.3V355.7" stroke="#EBEBEB" stroke-width="0.62" fill="none"/>
<rect x="40.87" y="272.2" width="7.75" height="78.9" fill="#E69F00" fill-opacity="0.45"/>
<rect x="49.58" y="264" width="7.75" height="87.1" fill="#E69F00"/>
<rect x="60.22" y="274.6" width="7.75" height="76.5" fill="#56B4E9" fill-opacity="0.45"/>
<rect x="68.93" y="266.1" width="7.75" height="85" fill="#56B4E9"/>
<rect x="79.57" y="276.2" width="7.75" height="74.9" fill="#009E73" fill-opacity="0.45"/>
<rect x="88.28" y="268.2" width="7.75" height="82.9" fill="#009E73"/>
<rect x="98.92" y="275" width="7.75" height="76.1" fill="#CC79A7" fill-opacity="0.45"/>
<rect x="107.63" y="268.2" width="7.75" height="82.9" fill="#CC79A7"/>
<path d="M43.6 268.2H45.9M44.75 268.2V274.7M43.6 274.7H45.9" stroke="#000" stroke-opacity="0.5" stroke-width="0.8" fill="none"/>
<path d="M52.3 259.9H54.6M53.45 259.9V267.4M52.3 267.4H54.6" stroke="#000" stroke-width="0.8" fill="none"/>
<path d="M62.95 270.4H65.25M64.09 270.4V277.4M62.95 277.4H65.25" stroke="#000" stroke-opacity="0.5" stroke-width="0.8" fill="none"/>
<path d="M71.66 262.3H73.96M72.81 262.3V269.5M71.66 269.5H73.96" stroke="#000" stroke-width="0.8" fill="none"/>
<path d="M82.3 272.3H84.6M83.45 272.3V278.9M82.3 278.9H84.6" stroke="#000" stroke-opacity="0.5" stroke-width="0.8" fill="none"/>
<path d="M91.01 264.4H93.31M92.16 264.4V271.2M91.01 271.2H93.31" stroke="#000" stroke-width="0.8" fill="none"/>
<path d="M101.64 271.1H103.95M102.8 271.1V277.6M101.64 277.6H103.95" stroke="#000" stroke-opacity="0.5" stroke-width="0.8" fill="none"/>
<path d="M110.36 264.2H112.66M111.51 264.2V270.7M110.36 270.7H112.66" stroke="#000" stroke-width="0.8" fill="none"/>
<text x="34.4" y="353.57" font-size="7.75" fill="#4D4D4D" stroke="#4D4D4D" stroke-width="0.1" text-anchor="end">0.000</text>
<text x="34.4" y="327.47" font-size="7.75" fill="#4D4D4D" stroke="#4D4D4D" stroke-width="0.1" text-anchor="end">0.020</text>
<text x="34.4" y="301.37" font-size="7.75" fill="#4D4D4D" stroke="#4D4D4D" stroke-width="0.1" text-anchor="end">0.040</text>
<text x="34.4" y="275.27" font-size="7.75" fill="#4D4D4D" stroke="#4D4D4D" stroke-width="0.1" text-anchor="end">0.060</text>
<text x="78.05" y="252.02" font-size="7.6" fill="#1A1A1A" stroke="#1A1A1A" stroke-width="0.1" text-anchor="middle">Average</text>
</g>
<g>
<path d="M147.4 337.35H228.7M147.4 309.65H228.7M147.4 281.95H228.7" stroke="#EBEBEB" stroke-width="0.36" fill="none"/>
<path d="M147.4 351.2H228.7M147.4 323.5H228.7M147.4 295.7H228.7M147.4 267.9H228.7M159.1 255.3V355.7M178.45 255.3V355.7M197.8 255.3V355.7M217.15 255.3V355.7" stroke="#EBEBEB" stroke-width="0.62" fill="none"/>
<rect x="150.87" y="271.2" width="7.75" height="79.9" fill="#E69F00" fill-opacity="0.45"/>
<rect x="159.58" y="269.1" width="7.75" height="82" fill="#E69F00"/>
<rect x="170.22" y="273.1" width="7.75" height="78" fill="#56B4E9" fill-opacity="0.45"/>
<rect x="178.93" y="268.2" width="7.75" height="82.9" fill="#56B4E9"/>
<rect x="189.57" y="274.1" width="7.75" height="77" fill="#009E73" fill-opacity="0.45"/>
<rect x="198.28" y="269.8" width="7.75" height="81.3" fill="#009E73"/>
<rect x="208.92" y="275" width="7.75" height="76.1" fill="#CC79A7" fill-opacity="0.45"/>
<rect x="217.63" y="270.1" width="7.75" height="81" fill="#CC79A7"/>
<path d="M153.59 263.2H155.9M154.75 263.2V277.6M153.59 277.6H155.9" stroke="#000" stroke-opacity="0.5" stroke-width="0.8" fill="none"/>
<path d="M162.3 260.7H164.6M163.45 260.7V275.4M162.3 275.4H164.6" stroke="#000" stroke-width="0.8" fill="none"/>
<path d="M172.94 265.2H175.25M174.09 265.2V279.3M172.94 279.3H175.25" stroke="#000" stroke-opacity="0.5" stroke-width="0.8" fill="none"/>
<path d="M181.65 259.9H183.95M182.8 259.9V274.6M181.65 274.6H183.95" stroke="#000" stroke-width="0.8" fill="none"/>
<path d="M192.3 266.3H194.6M193.45 266.3V280.5M192.3 280.5H194.6" stroke="#000" stroke-opacity="0.5" stroke-width="0.8" fill="none"/>
<path d="M201 261.3H203.31M202.16 261.3V276.5M201 276.5H203.31" stroke="#000" stroke-width="0.8" fill="none"/>
<path d="M211.65 267.2H213.95M212.8 267.2V281.4M211.65 281.4H213.95" stroke="#000" stroke-opacity="0.5" stroke-width="0.8" fill="none"/>
<path d="M220.35 261.6H222.66M221.5 261.6V276.5M220.35 276.5H222.66" stroke="#000" stroke-width="0.8" fill="none"/>
<text x="144.4" y="353.97" font-size="7.75" fill="#4D4D4D" stroke="#4D4D4D" stroke-width="0.1" text-anchor="end">0.000</text>
<text x="144.4" y="326.27" font-size="7.75" fill="#4D4D4D" stroke="#4D4D4D" stroke-width="0.1" text-anchor="end">0.020</text>
<text x="144.4" y="298.47" font-size="7.75" fill="#4D4D4D" stroke="#4D4D4D" stroke-width="0.1" text-anchor="end">0.040</text>
<text x="144.4" y="270.67" font-size="7.75" fill="#4D4D4D" stroke="#4D4D4D" stroke-width="0.1" text-anchor="end">0.060</text>
<text x="188.05" y="252.02" font-size="7.6" fill="#1A1A1A" stroke="#1A1A1A" stroke-width="0.1" text-anchor="middle">WHR</text>
</g>
<g>
<path d="M257.4 339.45H338.7M257.4 316.35H338.7M257.4 293.25H338.7M257.4 270.15H338.7" stroke="#EBEBEB" stroke-width="0.36" fill="none"/>
<path d="M257.4 351H338.7M257.4 327.9H338.7M257.4 304.9H338.7M257.4 281.9H338.7M257.4 258.8H338.7M269.1 255.3V355.7M288.45 255.3V355.7M307.8 255.3V355.7M327.15 255.3V355.7" stroke="#EBEBEB" stroke-width="0.62" fill="none"/>
<rect x="260.87" y="285.4" width="7.75" height="65.7" fill="#E69F00" fill-opacity="0.45"/>
<rect x="269.58" y="269.6" width="7.75" height="81.5" fill="#E69F00"/>
<rect x="280.22" y="286.4" width="7.75" height="64.7" fill="#56B4E9" fill-opacity="0.45"/>
<rect x="288.93" y="272" width="7.75" height="79.1" fill="#56B4E9"/>
<rect x="299.57" y="285.4" width="7.75" height="65.7" fill="#009E73" fill-opacity="0.45"/>
<rect x="308.28" y="269.9" width="7.75" height="81.2" fill="#009E73"/>
<rect x="318.92" y="287.3" width="7.75" height="63.8" fill="#CC79A7" fill-opacity="0.45"/>
<rect x="327.63" y="276.2" width="7.75" height="74.9" fill="#CC79A7"/>
<path d="M263.6 276.3H265.89M264.75 276.3V292.7M263.6 292.7H265.89" stroke="#000" stroke-opacity="0.5" stroke-width="0.8" fill="none"/>
<path d="M272.31 259.9H274.61M273.46 259.9V277.6M272.31 277.6H274.61" stroke="#000" stroke-width="0.8" fill="none"/>
<path d="M282.95 277.4H285.25M284.1 277.4V293.5M282.95 293.5H285.25" stroke="#000" stroke-opacity="0.5" stroke-width="0.8" fill="none"/>
<path d="M291.66 262.3H293.96M292.81 262.3V280M291.66 280H293.96" stroke="#000" stroke-width="0.8" fill="none"/>
<path d="M302.3 276.3H304.59M303.44 276.3V292.7M302.3 292.7H304.59" stroke="#000" stroke-opacity="0.5" stroke-width="0.8" fill="none"/>
<path d="M311.01 260.4H313.31M312.16 260.4V278.4M311.01 278.4H313.31" stroke="#000" stroke-width="0.8" fill="none"/>
<path d="M321.65 278.2H323.94M322.8 278.2V294.5M321.65 294.5H323.94" stroke="#000" stroke-opacity="0.5" stroke-width="0.8" fill="none"/>
<path d="M330.36 266.3H332.66M331.51 266.3V284M330.36 284H332.66" stroke="#000" stroke-width="0.8" fill="none"/>
<text x="254.4" y="353.77" font-size="7.75" fill="#4D4D4D" stroke="#4D4D4D" stroke-width="0.1" text-anchor="end">0.000</text>
<text x="254.4" y="330.67" font-size="7.75" fill="#4D4D4D" stroke="#4D4D4D" stroke-width="0.1" text-anchor="end">0.010</text>
<text x="254.4" y="307.67" font-size="7.75" fill="#4D4D4D" stroke="#4D4D4D" stroke-width="0.1" text-anchor="end">0.020</text>
<text x="254.4" y="284.67" font-size="7.75" fill="#4D4D4D" stroke="#4D4D4D" stroke-width="0.1" text-anchor="end">0.030</text>
<text x="254.4" y="261.57" font-size="7.75" fill="#4D4D4D" stroke="#4D4D4D" stroke-width="0.1" text-anchor="end">0.040</text>
<text x="298.05" y="252.02" font-size="7.6" fill="#1A1A1A" stroke="#1A1A1A" stroke-width="0.1" text-anchor="middle">DBP</text>
</g>
<g>
<path d="M367.4 338.4H448.7M367.4 312.8H448.7M367.4 287.2H448.7M367.4 261.6H448.7" stroke="#EBEBEB" stroke-width="0.36" fill="none"/>
<path d="M367.4 351.2H448.7M367.4 325.6H448.7M367.4 300H448.7M367.4 274.4H448.7M379.1 255.3V355.7M398.45 255.3V355.7M417.8 255.3V355.7M437.15 255.3V355.7" stroke="#EBEBEB" stroke-width="0.62" fill="none"/>
<rect x="370.87" y="282.8" width="7.75" height="68.3" fill="#E69F00" fill-opacity="0.45"/>
<rect x="379.58" y="270.1" width="7.75" height="81" fill="#E69F00"/>
<rect x="390.22" y="282.2" width="7.75" height="68.9" fill="#56B4E9" fill-opacity="0.45"/>
<rect x="398.93" y="270.1" width="7.75" height="81" fill="#56B4E9"/>
<rect x="409.57" y="283.2" width="7.75" height="67.9" fill="#009E73" fill-opacity="0.45"/>
<rect x="418.28" y="276" width="7.75" height="75.1" fill="#009E73"/>
<rect x="428.92" y="283.8" width="7.75" height="67.3" fill="#CC79A7" fill-opacity="0.45"/>
<rect x="437.63" y="276.3" width="7.75" height="74.8" fill="#CC79A7"/>
<path d="M373.6 273.4H375.89M374.75 273.4V290.5M373.6 290.5H375.89" stroke="#000" stroke-opacity="0.5" stroke-width="0.8" fill="none"/>
<path d="M382.31 259.9H384.61M383.46 259.9V278.7M382.31 278.7H384.61" stroke="#000" stroke-width="0.8" fill="none"/>
<path d="M392.95 272.6H395.25M394.1 272.6V290M392.95 290H395.25" stroke="#000" stroke-opacity="0.5" stroke-width="0.8" fill="none"/>
<path d="M401.66 259.9H403.96M402.81 259.9V278.5M401.66 278.5H403.96" stroke="#000" stroke-width="0.8" fill="none"/>
<path d="M412.3 273.9H414.59M413.44 273.9V291.5M412.3 291.5H414.59" stroke="#000" stroke-opacity="0.5" stroke-width="0.8" fill="none"/>
<path d="M421.01 266H423.31M422.16 266V284.3M421.01 284.3H423.31" stroke="#000" stroke-width="0.8" fill="none"/>
<path d="M431.65 274.2H433.94M432.8 274.2V291.5M431.65 291.5H433.94" stroke="#000" stroke-opacity="0.5" stroke-width="0.8" fill="none"/>
<path d="M440.36 266.3H442.66M441.51 266.3V284.3M440.36 284.3H442.66" stroke="#000" stroke-width="0.8" fill="none"/>
<text x="364.4" y="353.97" font-size="7.75" fill="#4D4D4D" stroke="#4D4D4D" stroke-width="0.1" text-anchor="end">0.000</text>
<text x="364.4" y="328.37" font-size="7.75" fill="#4D4D4D" stroke="#4D4D4D" stroke-width="0.1" text-anchor="end">0.010</text>
<text x="364.4" y="302.77" font-size="7.75" fill="#4D4D4D" stroke="#4D4D4D" stroke-width="0.1" text-anchor="end">0.020</text>
<text x="364.4" y="277.17" font-size="7.75" fill="#4D4D4D" stroke="#4D4D4D" stroke-width="0.1" text-anchor="end">0.030</text>
<text x="408.05" y="252.02" font-size="7.6" fill="#1A1A1A" stroke="#1A1A1A" stroke-width="0.1" text-anchor="middle">SBP</text>
</g>
<g>
<path d="M477.4 342.25H558.7M477.4 324.75H558.7M477.4 307.25H558.7M477.4 289.75H558.7M477.4 272.25H558.7" stroke="#EBEBEB" stroke-width="0.36" fill="none"/>
<path d="M477.4 351H558.7M477.4 333.5H558.7M477.4 316H558.7M477.4 298.6H558.7M477.4 281.1H558.7M477.4 263.6H558.7M489.1 255.3V355.7M508.45 255.3V355.7M527.8 255.3V355.7M547.15 255.3V355.7" stroke="#EBEBEB" stroke-width="0.62" fill="none"/>
<rect x="480.87" y="271.1" width="7.75" height="80" fill="#E69F00" fill-opacity="0.45"/>
<rect x="489.58" y="272.8" width="7.75" height="78.3" fill="#E69F00"/>
<rect x="500.22" y="271.7" width="7.75" height="79.4" fill="#56B4E9" fill-opacity="0.45"/>
<rect x="508.93" y="272.8" width="7.75" height="78.3" fill="#56B4E9"/>
<rect x="519.57" y="281.3" width="7.75" height="69.8" fill="#009E73" fill-opacity="0.45"/>
<rect x="528.28" y="279" width="7.75" height="72.1" fill="#009E73"/>
<rect x="538.92" y="274.1" width="7.75" height="77" fill="#CC79A7" fill-opacity="0.45"/>
<rect x="547.63" y="273" width="7.75" height="78.1" fill="#CC79A7"/>
<path d="M483.6 259.9H485.89M484.75 259.9V280.3M483.6 280.3H485.89" stroke="#000" stroke-opacity="0.5" stroke-width="0.8" fill="none"/>
<path d="M492.31 261.3H494.61M493.46 261.3V282.4M492.31 282.4H494.61" stroke="#000" stroke-width="0.8" fill="none"/>
<path d="M502.95 260.4H505.25M504.1 260.4V281.4M502.95 281.4H505.25" stroke="#000" stroke-opacity="0.5" stroke-width="0.8" fill="none"/>
<path d="M511.66 261.3H513.96M512.81 261.3V282.4M511.66 282.4H513.96" stroke="#000" stroke-width="0.8" fill="none"/>
<path d="M522.3 270.7H524.6M523.45 270.7V290.3M522.3 290.3H524.6" stroke="#000" stroke-opacity="0.5" stroke-width="0.8" fill="none"/>
<path d="M531.01 268.3H533.31M532.16 268.3V288.3M531.01 288.3H533.31" stroke="#000" stroke-width="0.8" fill="none"/>
<path d="M541.64 262.8H543.94M542.79 262.8V283.5M541.64 283.5H543.94" stroke="#000" stroke-opacity="0.5" stroke-width="0.8" fill="none"/>
<path d="M550.36 261.6H552.65M551.5 261.6V282.4M550.36 282.4H552.65" stroke="#000" stroke-width="0.8" fill="none"/>
<text x="474.4" y="353.77" font-size="7.75" fill="#4D4D4D" stroke="#4D4D4D" stroke-width="0.1" text-anchor="end">0.000</text>
<text x="474.4" y="336.27" font-size="7.75" fill="#4D4D4D" stroke="#4D4D4D" stroke-width="0.1" text-anchor="end">0.010</text>
<text x="474.4" y="318.77" font-size="7.75" fill="#4D4D4D" stroke="#4D4D4D" stroke-width="0.1" text-anchor="end">0.020</text>
<text x="474.4" y="301.37" font-size="7.75" fill="#4D4D4D" stroke="#4D4D4D" stroke-width="0.1" text-anchor="end">0.030</text>
<text x="474.4" y="283.87" font-size="7.75" fill="#4D4D4D" stroke="#4D4D4D" stroke-width="0.1" text-anchor="end">0.040</text>
<text x="474.4" y="266.37" font-size="7.75" fill="#4D4D4D" stroke="#4D4D4D" stroke-width="0.1" text-anchor="end">0.050</text>
<text x="518.05" y="252.02" font-size="7.6" fill="#1A1A1A" stroke="#1A1A1A" stroke-width="0.1" text-anchor="middle">Creatinine</text>
</g>
<g>
<path d="M587.4 339.75H668.7M587.4 317.05H668.7M587.4 294.35H668.7M587.4 271.65H668.7" stroke="#EBEBEB" stroke-width="0.36" fill="none"/>
<path d="M587.4 351.1H668.7M587.4 328.4H668.7M587.4 305.8H668.7M587.4 283.1H668.7M587.4 260.4H668.7M599.1 255.3V355.7M618.45 255.3V355.7M637.8 255.3V355.7M657.15 255.3V355.7" stroke="#EBEBEB" stroke-width="0.62" fill="none"/>
<rect x="590.87" y="292.1" width="7.75" height="59" fill="#E69F00" fill-opacity="0.45"/>
<rect x="599.58" y="288.3" width="7.75" height="62.8" fill="#E69F00"/>
<rect x="610.22" y="296.7" width="7.75" height="54.4" fill="#56B4E9" fill-opacity="0.45"/>
<rect x="618.93" y="300.1" width="7.75" height="51" fill="#56B4E9"/>
<rect x="629.57" y="298.1" width="7.75" height="53" fill="#009E73" fill-opacity="0.45"/>
<rect x="638.28" y="297.8" width="7.75" height="53.3" fill="#009E73"/>
<rect x="648.92" y="302.1" width="7.75" height="49" fill="#CC79A7" fill-opacity="0.45"/>
<rect x="657.63" y="304.7" width="7.75" height="46.4" fill="#CC79A7"/>
<path d="M593.6 264.2H595.89M594.75 264.2V313.4M593.6 313.4H595.89" stroke="#000" stroke-opacity="0.5" stroke-width="0.8" fill="none"/>
<path d="M602.31 259.9H604.61M603.46 259.9V310.6M602.31 310.6H604.61" stroke="#000" stroke-width="0.8" fill="none"/>
<path d="M612.95 269.5H615.25M614.1 269.5V317.4M612.95 317.4H615.25" stroke="#000" stroke-opacity="0.5" stroke-width="0.8" fill="none"/>
<path d="M621.66 273.4H623.96M622.81 273.4V319.8M621.66 319.8H623.96" stroke="#000" stroke-width="0.8" fill="none"/>
<path d="M632.3 271.2H634.6M633.45 271.2V318.5M632.3 318.5H634.6" stroke="#000" stroke-opacity="0.5" stroke-width="0.8" fill="none"/>
<path d="M641.01 271.2H643.31M642.16 271.2V318.4M641.01 318.4H643.31" stroke="#000" stroke-width="0.8" fill="none"/>
<path d="M651.64 276.3H653.94M652.79 276.3V321.4M651.64 321.4H653.94" stroke="#000" stroke-opacity="0.5" stroke-width="0.8" fill="none"/>
<path d="M660.36 279.2H662.65M661.5 279.2V323.5M660.36 323.5H662.65" stroke="#000" stroke-width="0.8" fill="none"/>
<text x="584.4" y="353.87" font-size="7.75" fill="#4D4D4D" stroke="#4D4D4D" stroke-width="0.1" text-anchor="end">0.000</text>
<text x="584.4" y="331.17" font-size="7.75" fill="#4D4D4D" stroke="#4D4D4D" stroke-width="0.1" text-anchor="end">0.010</text>
<text x="584.4" y="308.57" font-size="7.75" fill="#4D4D4D" stroke="#4D4D4D" stroke-width="0.1" text-anchor="end">0.020</text>
<text x="584.4" y="285.87" font-size="7.75" fill="#4D4D4D" stroke="#4D4D4D" stroke-width="0.1" text-anchor="end">0.030</text>
<text x="584.4" y="263.17" font-size="7.75" fill="#4D4D4D" stroke="#4D4D4D" stroke-width="0.1" text-anchor="end">0.040</text>
<text x="628.05" y="252.02" font-size="7.6" fill="#1A1A1A" stroke="#1A1A1A" stroke-width="0.1" text-anchor="middle">Urate</text>
</g>
<g>
<path d="M37.4 455.05H118.7M37.4 432.95H118.7M37.4 410.85H118.7M37.4 388.75H118.7" stroke="#EBEBEB" stroke-width="0.36" fill="none"/>
<path d="M37.4 466.1H118.7M37.4 444H118.7M37.4 421.9H118.7M37.4 399.8H118.7M37.4 377.7H118.7M49.1 375.1V470.3M68.45 375.1V470.3M87.8 375.1V470.3M107.15 375.1V470.3" stroke="#EBEBEB" stroke-width="0.62" fill="none"/>
<rect x="40.87" y="404.3" width="7.75" height="61.7" fill="#E69F00" fill-opacity="0.45"/>
<rect x="49.58" y="386.1" width="7.75" height="79.9" fill="#E69F00"/>
<rect x="60.22" y="406.2" width="7.75" height="59.8" fill="#56B4E9" fill-opacity="0.45"/>
<rect x="68.93" y="391.1" width="7.75" height="74.9" fill="#56B4E9"/>
<rect x="79.57" y="408.1" width="7.75" height="57.9" fill="#009E73" fill-opacity="0.45"/>
<rect x="88.28" y="393.4" width="7.75" height="72.6" fill="#009E73"/>
<rect x="98.92" y="410.2" width="7.75" height="55.8" fill="#CC79A7" fill-opacity="0.45"/>
<rect x="107.63" y="395.2" width="7.75" height="70.8" fill="#CC79A7"/>
<path d="M43.6 398.4H45.9M44.75 398.4V409.1M43.6 409.1H45.9" stroke="#000" stroke-opacity="0.5" stroke-width="0.8" fill="none"/>
<path d="M52.3 379.4H54.6M53.45 379.4V391.5M52.3 391.5H54.6" stroke="#000" stroke-width="0.8" fill="none"/>
<path d="M62.95 400.1H65.25M64.09 400.1V410.7M62.95 410.7H65.25" stroke="#000" stroke-opacity="0.5" stroke-width="0.8" fill="none"/>
<path d="M71.66 384.4H73.96M72.81 384.4V396.3M71.66 396.3H73.96" stroke="#000" stroke-width="0.8" fill="none"/>
<path d="M82.3 402.2H84.6M83.45 402.2V412.4M82.3 412.4H84.6" stroke="#000" stroke-opacity="0.5" stroke-width="0.8" fill="none"/>
<path d="M91.01 387.2H93.31M92.16 387.2V398.5M91.01 398.5H93.31" stroke="#000" stroke-width="0.8" fill="none"/>
<path d="M101.64 404.3H103.95M102.8 404.3V414.5M101.64 414.5H103.95" stroke="#000" stroke-opacity="0.5" stroke-width="0.8" fill="none"/>
<path d="M110.36 388.7H112.66M111.51 388.7V400.3M110.36 400.3H112.66" stroke="#000" stroke-width="0.8" fill="none"/>
<text x="34.4" y="468.87" font-size="7.75" fill="#4D4D4D" stroke="#4D4D4D" stroke-width="0.1" text-anchor="end">0.000</text>
<text x="34.4" y="446.77" font-size="7.75" fill="#4D4D4D" stroke="#4D4D4D" stroke-width="0.1" text-anchor="end">0.020</text>
<text x="34.4" y="424.67" font-size="7.75" fill="#4D4D4D" stroke="#4D4D4D" stroke-width="0.1" text-anchor="end">0.040</text>
<text x="34.4" y="402.57" font-size="7.75" fill="#4D4D4D" stroke="#4D4D4D" stroke-width="0.1" text-anchor="end">0.060</text>
<text x="34.4" y="380.47" font-size="7.75" fill="#4D4D4D" stroke="#4D4D4D" stroke-width="0.1" text-anchor="end">0.080</text>
<text x="78.05" y="371.92" font-size="7.6" fill="#1A1A1A" stroke="#1A1A1A" stroke-width="0.1" text-anchor="middle">BMI</text>
<text x="49.1" y="477.95" font-size="6.0" fill="#4D4D4D" stroke="#4D4D4D" stroke-width="0.1" text-anchor="middle">Combined</text>
<text x="68.45" y="486.35" font-size="6.0" fill="#4D4D4D" stroke="#4D4D4D" stroke-width="0.1" text-anchor="middle">TL−GDES</text>
<text x="87.8" y="477.95" font-size="6.0" fill="#4D4D4D" stroke="#4D4D4D" stroke-width="0.1" text-anchor="middle">TL−PR</text>
<text x="107.15" y="486.35" font-size="6.0" fill="#4D4D4D" stroke="#4D4D4D" stroke-width="0.1" text-anchor="middle">TL−BMM</text>
</g>
<g>
<path d="M147.4 456H228.7M147.4 435.6H228.7M147.4 415.2H228.7M147.4 394.8H228.7" stroke="#EBEBEB" stroke-width="0.36" fill="none"/>
<path d="M147.4 466.2H228.7M147.4 445.8H228.7M147.4 425.4H228.7M147.4 405H228.7M147.4 384.6H228.7M159.1 375.1V470.3M178.45 375.1V470.3M197.8 375.1V470.3M217.15 375.1V470.3" stroke="#EBEBEB" stroke-width="0.62" fill="none"/>
<rect x="150.87" y="398.2" width="7.75" height="67.8" fill="#E69F00" fill-opacity="0.45"/>
<rect x="159.58" y="388.7" width="7.75" height="77.3" fill="#E69F00"/>
<rect x="170.22" y="400.3" width="7.75" height="65.7" fill="#56B4E9" fill-opacity="0.45"/>
<rect x="178.93" y="391.5" width="7.75" height="74.5" fill="#56B4E9"/>
<rect x="189.57" y="400.5" width="7.75" height="65.5" fill="#009E73" fill-opacity="0.45"/>
<rect x="198.28" y="393.8" width="7.75" height="72.2" fill="#009E73"/>
<rect x="208.92" y="396.3" width="7.75" height="69.7" fill="#CC79A7" fill-opacity="0.45"/>
<rect x="217.63" y="391.5" width="7.75" height="74.5" fill="#CC79A7"/>
<path d="M153.59 389.1H155.9M154.75 389.1V405.4M153.59 405.4H155.9" stroke="#000" stroke-opacity="0.5" stroke-width="0.8" fill="none"/>
<path d="M162.3 379.4H164.6M163.45 379.4V396.6M162.3 396.6H164.6" stroke="#000" stroke-width="0.8" fill="none"/>
<path d="M172.94 391.2H175.25M174.09 391.2V407.5M172.94 407.5H175.25" stroke="#000" stroke-opacity="0.5" stroke-width="0.8" fill="none"/>
<path d="M181.65 382.3H183.95M182.8 382.3V399.5M181.65 399.5H183.95" stroke="#000" stroke-width="0.8" fill="none"/>
<path d="M192.3 391.4H194.6M193.45 391.4V407.5M192.3 407.5H194.6" stroke="#000" stroke-opacity="0.5" stroke-width="0.8" fill="none"/>
<path d="M201 384.4H203.31M202.16 384.4V401.4M201 401.4H203.31" stroke="#000" stroke-width="0.8" fill="none"/>
<path d="M211.65 387.2H213.95M212.8 387.2V403.5M211.65 403.5H213.95" stroke="#000" stroke-opacity="0.5" stroke-width="0.8" fill="none"/>
<path d="M220.35 382.3H222.66M221.5 382.3V399.3M220.35 399.3H222.66" stroke="#000" stroke-width="0.8" fill="none"/>
<text x="144.4" y="468.97" font-size="7.75" fill="#4D4D4D" stroke="#4D4D4D" stroke-width="0.1" text-anchor="end">0.000</text>
<text x="144.4" y="448.57" font-size="7.75" fill="#4D4D4D" stroke="#4D4D4D" stroke-width="0.1" text-anchor="end">0.025</text>
<text x="144.4" y="428.17" font-size="7.75" fill="#4D4D4D" stroke="#4D4D4D" stroke-width="0.1" text-anchor="end">0.050</text>
<text x="144.4" y="407.77" font-size="7.75" fill="#4D4D4D" stroke="#4D4D4D" stroke-width="0.1" text-anchor="end">0.075</text>
<text x="144.4" y="387.37" font-size="7.75" fill="#4D4D4D" stroke="#4D4D4D" stroke-width="0.1" text-anchor="end">0.100</text>
<text x="188.05" y="371.92" font-size="7.6" fill="#1A1A1A" stroke="#1A1A1A" stroke-width="0.1" text-anchor="middle">Triglycerides</text>
<text x="159.1" y="477.95" font-size="6.0" fill="#4D4D4D" stroke="#4D4D4D" stroke-width="0.1" text-anchor="middle">Combined</text>
<text x="178.45" y="486.35" font-size="6.0" fill="#4D4D4D" stroke="#4D4D4D" stroke-width="0.1" text-anchor="middle">TL−GDES</text>
<text x="197.8" y="477.95" font-size="6.0" fill="#4D4D4D" stroke="#4D4D4D" stroke-width="0.1" text-anchor="middle">TL−PR</text>
<text x="217.15" y="486.35" font-size="6.0" fill="#4D4D4D" stroke="#4D4D4D" stroke-width="0.1" text-anchor="middle">TL−BMM</text>
</g>
<g>
<path d="M257.4 451.75H338.7M257.4 423.25H338.7M257.4 394.75H338.7" stroke="#EBEBEB" stroke-width="0.36" fill="none"/>
<path d="M257.4 466H338.7M257.4 437.5H338.7M257.4 408.9H338.7M257.4 380.4H338.7M269.1 375.1V470.3M288.45 375.1V470.3M307.8 375.1V470.3M327.15 375.1V470.3" stroke="#EBEBEB" stroke-width="0.62" fill="none"/>
<rect x="260.87" y="402.4" width="7.75" height="63.6" fill="#E69F00" fill-opacity="0.45"/>
<rect x="269.58" y="397.4" width="7.75" height="68.6" fill="#E69F00"/>
<rect x="280.22" y="404.1" width="7.75" height="61.9" fill="#56B4E9" fill-opacity="0.45"/>
<rect x="288.93" y="395.2" width="7.75" height="70.8" fill="#56B4E9"/>
<rect x="299.57" y="411.5" width="7.75" height="54.5" fill="#009E73" fill-opacity="0.45"/>
<rect x="308.28" y="402.7" width="7.75" height="63.3" fill="#009E73"/>
<rect x="318.92" y="407.5" width="7.75" height="58.5" fill="#CC79A7" fill-opacity="0.45"/>
<rect x="327.63" y="401.9" width="7.75" height="64.1" fill="#CC79A7"/>
<path d="M263.6 387.2H265.89M264.75 387.2V415.1M263.6 415.1H265.89" stroke="#000" stroke-opacity="0.5" stroke-width="0.8" fill="none"/>
<path d="M272.31 381.3H274.61M273.46 381.3V410.5M272.31 410.5H274.61" stroke="#000" stroke-width="0.8" fill="none"/>
<path d="M282.95 388.5H285.25M284.1 388.5V416.6M282.95 416.6H285.25" stroke="#000" stroke-opacity="0.5" stroke-width="0.8" fill="none"/>
<path d="M291.66 379.4H293.96M292.81 379.4V408.4M291.66 408.4H293.96" stroke="#000" stroke-width="0.8" fill="none"/>
<path d="M302.3 397.4H304.59M303.44 397.4V423.4M302.3 423.4H304.59" stroke="#000" stroke-opacity="0.5" stroke-width="0.8" fill="none"/>
<path d="M311.01 387.4H313.31M312.16 387.4V415.4M311.01 415.4H313.31" stroke="#000" stroke-width="0.8" fill="none"/>
<path d="M321.65 392.3H323.94M322.8 392.3V419.6M321.65 419.6H323.94" stroke="#000" stroke-opacity="0.5" stroke-width="0.8" fill="none"/>
<path d="M330.36 386.3H332.66M331.51 386.3V414.5M330.36 414.5H332.66" stroke="#000" stroke-width="0.8" fill="none"/>
<text x="254.4" y="468.77" font-size="7.75" fill="#4D4D4D" stroke="#4D4D4D" stroke-width="0.1" text-anchor="end">0.000</text>
<text x="254.4" y="440.27" font-size="7.75" fill="#4D4D4D" stroke="#4D4D4D" stroke-width="0.1" text-anchor="end">0.020</text>
<text x="254.4" y="411.67" font-size="7.75" fill="#4D4D4D" stroke="#4D4D4D" stroke-width="0.1" text-anchor="end">0.040</text>
<text x="254.4" y="383.17" font-size="7.75" fill="#4D4D4D" stroke="#4D4D4D" stroke-width="0.1" text-anchor="end">0.060</text>
<text x="298.05" y="371.92" font-size="7.6" fill="#1A1A1A" stroke="#1A1A1A" stroke-width="0.1" text-anchor="middle">LDL</text>
<text x="269.1" y="477.95" font-size="6.0" fill="#4D4D4D" stroke="#4D4D4D" stroke-width="0.1" text-anchor="middle">Combined</text>
<text x="288.45" y="486.35" font-size="6.0" fill="#4D4D4D" stroke="#4D4D4D" stroke-width="0.1" text-anchor="middle">TL−GDES</text>
<text x="307.8" y="477.95" font-size="6.0" fill="#4D4D4D" stroke="#4D4D4D" stroke-width="0.1" text-anchor="middle">TL−PR</text>
<text x="327.15" y="486.35" font-size="6.0" fill="#4D4D4D" stroke="#4D4D4D" stroke-width="0.1" text-anchor="middle">TL−BMM</text>
</g>
<g>
<path d="M367.4 449.95H448.7M367.4 417.45H448.7M367.4 384.95H448.7" stroke="#EBEBEB" stroke-width="0.36" fill="none"/>
<path d="M367.4 466.2H448.7M367.4 433.7H448.7M367.4 401.1H448.7M379.1 375.1V470.3M398.45 375.1V470.3M417.8 375.1V470.3M437.15 375.1V470.3" stroke="#EBEBEB" stroke-width="0.62" fill="none"/>
<rect x="370.87" y="392.6" width="7.75" height="73.4" fill="#E69F00" fill-opacity="0.45"/>
<rect x="379.58" y="390.9" width="7.75" height="75.1" fill="#E69F00"/>
<rect x="390.22" y="396.3" width="7.75" height="69.7" fill="#56B4E9" fill-opacity="0.45"/>
<rect x="398.93" y="391.1" width="7.75" height="74.9" fill="#56B4E9"/>
<rect x="409.57" y="393.8" width="7.75" height="72.2" fill="#009E73" fill-opacity="0.45"/>
<rect x="418.28" y="392.3" width="7.75" height="73.7" fill="#009E73"/>
<rect x="428.92" y="392.3" width="7.75" height="73.7" fill="#CC79A7" fill-opacity="0.45"/>
<rect x="437.63" y="388" width="7.75" height="78" fill="#CC79A7"/>
<path d="M373.6 384.4H375.89M374.75 384.4V399.5M373.6 399.5H375.89" stroke="#000" stroke-opacity="0.5" stroke-width="0.8" fill="none"/>
<path d="M382.31 382.4H384.61M383.46 382.4V397.6M382.31 397.6H384.61" stroke="#000" stroke-width="0.8" fill="none"/>
<path d="M392.95 388.3H395.25M394.1 388.3V402.7M392.95 402.7H395.25" stroke="#000" stroke-opacity="0.5" stroke-width="0.8" fill="none"/>
<path d="M401.66 382.4H403.96M402.81 382.4V397.6M401.66 397.6H403.96" stroke="#000" stroke-width="0.8" fill="none"/>
<path d="M412.3 385.3H414.59M413.44 385.3V400.5M412.3 400.5H414.59" stroke="#000" stroke-opacity="0.5" stroke-width="0.8" fill="none"/>
<path d="M421.01 384.2H423.31M422.16 384.2V399.2M421.01 399.2H423.31" stroke="#000" stroke-width="0.8" fill="none"/>
<path d="M431.65 384.2H433.94M432.8 384.2V399.2M431.65 399.2H433.94" stroke="#000" stroke-opacity="0.5" stroke-width="0.8" fill="none"/>
<path d="M440.36 379.4H442.66M441.51 379.4V394.4M440.36 394.4H442.66" stroke="#000" stroke-width="0.8" fill="none"/>
<text x="364.4" y="468.97" font-size="7.75" fill="#4D4D4D" stroke="#4D4D4D" stroke-width="0.1" text-anchor="end">0.000</text>
<text x="364.4" y="436.47" font-size="7.75" fill="#4D4D4D" stroke="#4D4D4D" stroke-width="0.1" text-anchor="end">0.050</text>
<text x="364.4" y="403.87" font-size="7.75" fill="#4D4D4D" stroke="#4D4D4D" stroke-width="0.1" text-anchor="end">0.100</text>
<text x="408.05" y="371.92" font-size="7.6" fill="#1A1A1A" stroke="#1A1A1A" stroke-width="0.1" text-anchor="middle">HDL</text>
<text x="379.1" y="477.95" font-size="6.0" fill="#4D4D4D" stroke="#4D4D4D" stroke-width="0.1" text-anchor="middle">Combined</text>
<text x="398.45" y="486.35" font-size="6.0" fill="#4D4D4D" stroke="#4D4D4D" stroke-width="0.1" text-anchor="middle">TL−GDES</text>
<text x="417.8" y="477.95" font-size="6.0" fill="#4D4D4D" stroke="#4D4D4D" stroke-width="0.1" text-anchor="middle">TL−PR</text>
<text x="437.15" y="486.35" font-size="6.0" fill="#4D4D4D" stroke="#4D4D4D" stroke-width="0.1" text-anchor="middle">TL−BMM</text>
</g>
<g>
<path d="M477.4 457.1H558.7M477.4 439.1H558.7M477.4 421.1H558.7M477.4 403.1H558.7M477.4 385.1H558.7" stroke="#EBEBEB" stroke-width="0.36" fill="none"/>
<path d="M477.4 466.1H558.7M477.4 448.1H558.7M477.4 430H558.7M477.4 412H558.7M477.4 394H558.7M477.4 375.9H558.7M489.1 375.1V470.3M508.45 375.1V470.3M527.8 375.1V470.3M547.15 375.1V470.3" stroke="#EBEBEB" stroke-width="0.62" fill="none"/>
<rect x="480.87" y="400" width="7.75" height="66" fill="#E69F00" fill-opacity="0.45"/>
<rect x="489.58" y="394.2" width="7.75" height="71.8" fill="#E69F00"/>
<rect x="500.22" y="405.1" width="7.75" height="60.9" fill="#56B4E9" fill-opacity="0.45"/>
<rect x="508.93" y="393.4" width="7.75" height="72.6" fill="#56B4E9"/>
<rect x="519.57" y="405.1" width="7.75" height="60.9" fill="#009E73" fill-opacity="0.45"/>
<rect x="528.28" y="393.1" width="7.75" height="72.9" fill="#009E73"/>
<rect x="538.92" y="400" width="7.75" height="66" fill="#CC79A7" fill-opacity="0.45"/>
<rect x="547.63" y="393.8" width="7.75" height="72.2" fill="#CC79A7"/>
<path d="M483.6 386.3H485.89M484.75 386.3V410.7M483.6 410.7H485.89" stroke="#000" stroke-opacity="0.5" stroke-width="0.8" fill="none"/>
<path d="M492.31 380.5H494.61M493.46 380.5V405.4M492.31 405.4H494.61" stroke="#000" stroke-width="0.8" fill="none"/>
<path d="M502.95 392H505.25M504.1 392V415.4M502.95 415.4H505.25" stroke="#000" stroke-opacity="0.5" stroke-width="0.8" fill="none"/>
<path d="M511.66 379.7H513.96M512.81 379.7V405.2M511.66 405.2H513.96" stroke="#000" stroke-width="0.8" fill="none"/>
<path d="M522.3 392.3H524.6M523.45 392.3V415.4M522.3 415.4H524.6" stroke="#000" stroke-opacity="0.5" stroke-width="0.8" fill="none"/>
<path d="M531.01 379.4H533.31M532.16 379.4V404.3M531.01 404.3H533.31" stroke="#000" stroke-width="0.8" fill="none"/>
<path d="M541.64 386.3H543.94M542.79 386.3V410.5M541.64 410.5H543.94" stroke="#000" stroke-opacity="0.5" stroke-width="0.8" fill="none"/>
<path d="M550.36 379.7H552.65M551.5 379.7V405.4M550.36 405.4H552.65" stroke="#000" stroke-width="0.8" fill="none"/>
<text x="474.4" y="468.87" font-size="7.75" fill="#4D4D4D" stroke="#4D4D4D" stroke-width="0.1" text-anchor="end">0.000</text>
<text x="474.4" y="450.87" font-size="7.75" fill="#4D4D4D" stroke="#4D4D4D" stroke-width="0.1" text-anchor="end">0.010</text>
<text x="474.4" y="432.77" font-size="7.75" fill="#4D4D4D" stroke="#4D4D4D" stroke-width="0.1" text-anchor="end">0.020</text>
<text x="474.4" y="414.77" font-size="7.75" fill="#4D4D4D" stroke="#4D4D4D" stroke-width="0.1" text-anchor="end">0.030</text>
<text x="474.4" y="396.77" font-size="7.75" fill="#4D4D4D" stroke="#4D4D4D" stroke-width="0.1" text-anchor="end">0.040</text>
<text x="474.4" y="378.67" font-size="7.75" fill="#4D4D4D" stroke="#4D4D4D" stroke-width="0.1" text-anchor="end">0.050</text>
<text x="518.05" y="371.92" font-size="7.6" fill="#1A1A1A" stroke="#1A1A1A" stroke-width="0.1" text-anchor="middle">Cholesterol</text>
<text x="489.1" y="477.95" font-size="6.0" fill="#4D4D4D" stroke="#4D4D4D" stroke-width="0.1" text-anchor="middle">Combined</text>
<text x="508.45" y="486.35" font-size="6.0" fill="#4D4D4D" stroke="#4D4D4D" stroke-width="0.1" text-anchor="middle">TL−GDES</text>
<text x="527.8" y="477.95" font-size="6.0" fill="#4D4D4D" stroke="#4D4D4D" stroke-width="0.1" text-anchor="middle">TL−PR</text>
<text x="547.15" y="486.35" font-size="6.0" fill="#4D4D4D" stroke="#4D4D4D" stroke-width="0.1" text-anchor="middle">TL−BMM</text>
</g>
<g>
<path d="M587.4 450.05H668.7M587.4 417.75H668.7M587.4 385.45H668.7" stroke="#EBEBEB" stroke-width="0.36" fill="none"/>
<path d="M587.4 466.2H668.7M587.4 433.9H668.7M587.4 401.6H668.7M599.1 375.1V470.3M618.45 375.1V470.3M637.8 375.1V470.3M657.15 375.1V470.3" stroke="#EBEBEB" stroke-width="0.62" fill="none"/>
<rect x="590.87" y="389.9" width="7.75" height="76.1" fill="#E69F00" fill-opacity="0.45"/>
<rect x="599.58" y="383.1" width="7.75" height="82.9" fill="#E69F00"/>
<rect x="610.22" y="392" width="7.75" height="74" fill="#56B4E9" fill-opacity="0.45"/>
<rect x="618.93" y="385.2" width="7.75" height="80.8" fill="#56B4E9"/>
<rect x="629.57" y="391.7" width="7.75" height="74.3" fill="#009E73" fill-opacity="0.45"/>
<rect x="638.28" y="385" width="7.75" height="81" fill="#009E73"/>
<rect x="648.92" y="391.8" width="7.75" height="74.2" fill="#CC79A7" fill-opacity="0.45"/>
<rect x="657.63" y="385" width="7.75" height="81" fill="#CC79A7"/>
<path d="M593.6 386.3H595.89M594.75 386.3V392.6M593.6 392.6H595.89" stroke="#000" stroke-opacity="0.5" stroke-width="0.8" fill="none"/>
<path d="M602.31 379.4H604.61M603.46 379.4V385.5M602.31 385.5H604.61" stroke="#000" stroke-width="0.8" fill="none"/>
<path d="M612.95 388.3H615.25M614.1 388.3V394.7M612.95 394.7H615.25" stroke="#000" stroke-opacity="0.5" stroke-width="0.8" fill="none"/>
<path d="M621.66 381.3H623.96M622.81 381.3V387.7M621.66 387.7H623.96" stroke="#000" stroke-width="0.8" fill="none"/>
<path d="M632.3 388.2H634.6M633.45 388.2V394.2M632.3 394.2H634.6" stroke="#000" stroke-opacity="0.5" stroke-width="0.8" fill="none"/>
<path d="M641.01 381.3H643.31M642.16 381.3V387.5M641.01 387.5H643.31" stroke="#000" stroke-width="0.8" fill="none"/>
<path d="M651.64 388.3H653.94M652.79 388.3V394.7M651.64 394.7H653.94" stroke="#000" stroke-opacity="0.5" stroke-width="0.8" fill="none"/>
<path d="M660.36 381.3H662.65M661.5 381.3V387.4M660.36 387.4H662.65" stroke="#000" stroke-width="0.8" fill="none"/>
<text x="584.4" y="468.97" font-size="7.75" fill="#4D4D4D" stroke="#4D4D4D" stroke-width="0.1" text-anchor="end">0.000</text>
<text x="584.4" y="436.67" font-size="7.75" fill="#4D4D4D" stroke="#4D4D4D" stroke-width="0.1" text-anchor="end">0.100</text>
<text x="584.4" y="404.37" font-size="7.75" fill="#4D4D4D" stroke="#4D4D4D" stroke-width="0.1" text-anchor="end">0.200</text>
<text x="628.05" y="371.92" font-size="7.6" fill="#1A1A1A" stroke="#1A1A1A" stroke-width="0.1" text-anchor="middle">Height</text>
<text x="599.1" y="477.95" font-size="6.0" fill="#4D4D4D" stroke="#4D4D4D" stroke-width="0.1" text-anchor="middle">Combined</text>
<text x="618.45" y="486.35" font-size="6.0" fill="#4D4D4D" stroke="#4D4D4D" stroke-width="0.1" text-anchor="middle">TL−GDES</text>
<text x="637.8" y="477.95" font-size="6.0" fill="#4D4D4D" stroke="#4D4D4D" stroke-width="0.1" text-anchor="middle">TL−PR</text>
<text x="657.15" y="486.35" font-size="6.0" fill="#4D4D4D" stroke="#4D4D4D" stroke-width="0.1" text-anchor="middle">TL−BMM</text>
</g>
<text transform="translate(675.3 65.95) rotate(90)" font-size="7.8" fill="#1A1A1A" stroke="#1A1A1A" stroke-width="0.1" text-anchor="middle" y="2.79">AA</text>
<text transform="translate(675.3 185.9) rotate(90)" font-size="7.8" fill="#1A1A1A" stroke="#1A1A1A" stroke-width="0.1" text-anchor="middle" y="2.79">AA</text>
<text transform="translate(675.3 305.5) rotate(90)" font-size="7.8" fill="#1A1A1A" stroke="#1A1A1A" stroke-width="0.1" text-anchor="middle" y="2.79">Hispanic</text>
<text transform="translate(675.3 422.7) rotate(90)" font-size="7.8" fill="#1A1A1A" stroke="#1A1A1A" stroke-width="0.1" text-anchor="middle" y="2.79">Hispanic</text>
<text transform="translate(2.95 257.6) rotate(-90)" font-size="8.95" fill="#000" stroke="#000" stroke-width="0.1" text-anchor="middle" y="3.2">PGS Prediction squared correlation</text>
<text x="229.1" y="506.15" font-size="8.8" fill="#000" stroke="#000" stroke-width="0.1">Method:</text>
<rect x="269.7" y="498.7" width="8.2" height="8.2" fill="#E69F00"/>
<text x="282.6" y="506.19" font-size="9.0" fill="#000" stroke="#000" stroke-width="0.1">Combined</text>
<rect x="332.3" y="498.7" width="8.2" height="8.2" fill="#56B4E9"/>
<text x="345.2" y="506.19" font-size="8.8" fill="#000" stroke="#000" stroke-width="0.1">TL−GDES</text>
<rect x="388.4" y="498.7" width="8.2" height="8.2" fill="#009E73"/>
<text x="401.2" y="506.19" font-size="8.8" fill="#000" stroke="#000" stroke-width="0.1">TL−PR</text>
<rect x="430.4" y="498.7" width="8.2" height="8.2" fill="#CC79A7"/>
<text x="443.3" y="506.19" font-size="8.8" fill="#000" stroke="#000" stroke-width="0.1">TL−BMM</text>
</svg>
</body></html>
